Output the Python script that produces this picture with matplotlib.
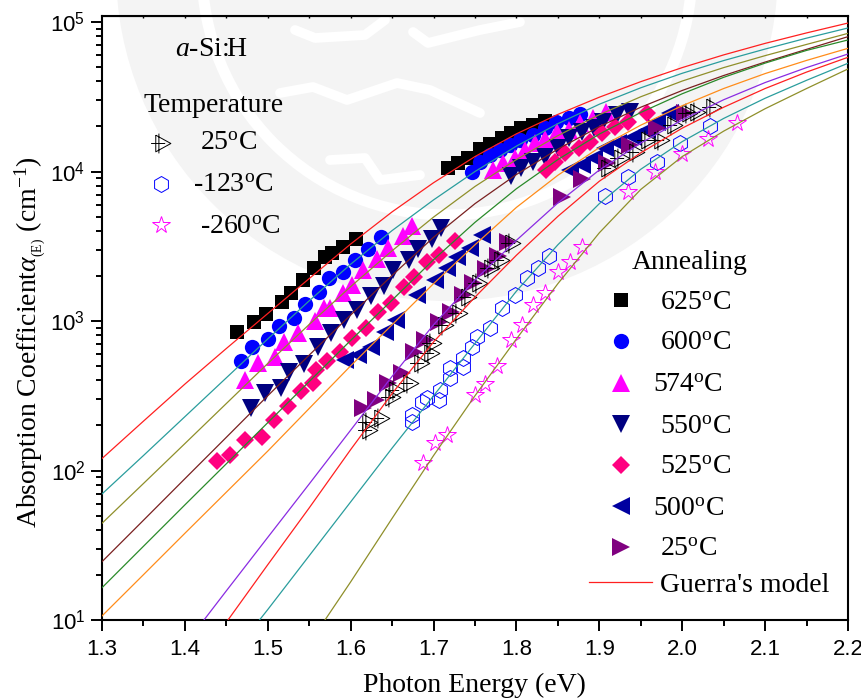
import matplotlib
matplotlib.use("Agg")
import matplotlib.pyplot as plt
import matplotlib.ticker as mticker
import numpy as np
from matplotlib.path import Path
from matplotlib.lines import Line2D
from matplotlib.patches import Circle

plt.rcParams['mathtext.fontset'] = 'custom'
plt.rcParams['mathtext.rm'] = 'Liberation Serif'
plt.rcParams['mathtext.it'] = 'Liberation Serif:italic'
plt.rcParams['mathtext.bf'] = 'Liberation Serif:bold'
plt.rcParams['mathtext.sf'] = 'Liberation Sans'
SERIF = 'Liberation Serif'
SANS = 'Liberation Sans'

# model curves: photon energy and log10(alpha)
grid = [1.30, 1.35, 1.40, 1.45, 1.50, 1.55, 1.60, 1.65, 1.70, 1.75, 1.80, 1.85, 1.90, 1.95, 2.00, 2.05, 2.10, 2.15, 2.20]
log_625 = [2.08, 2.33, 2.578, 2.816, 3.05, 3.284, 3.515, 3.73, 3.925, 4.10, 4.252, 4.382, 4.497, 4.601, 4.695, 4.78, 4.857, 4.927, 4.993]
log_600 = [1.843, 2.10, 2.36, 2.62, 2.88, 3.135, 3.38, 3.605, 3.81, 4.00, 4.17, 4.32, 4.45, 4.56, 4.657, 4.742, 4.819, 4.892, 4.96]
log_574 = [1.647, 1.913, 2.18, 2.448, 2.716, 2.977, 3.23, 3.47, 3.695, 3.90, 4.08, 4.24, 4.38, 4.50, 4.605, 4.695, 4.775, 4.85, 4.924]
log_550 = [1.39, 1.667, 1.945, 2.222, 2.5, 2.772, 3.04, 3.305, 3.56, 3.785, 3.98, 4.15, 4.30, 4.43, 4.542, 4.642, 4.732, 4.817, 4.902]
log_525 = [1.216, 1.493, 1.77, 2.045, 2.32, 2.595, 2.87, 3.14, 3.41, 3.66, 3.885, 4.08, 4.25, 4.395, 4.52, 4.63, 4.725, 4.81, 4.88]
log_500 = [1.027, 1.303, 1.58, 1.855, 2.13, 2.415, 2.70, 2.975, 3.25, 3.51, 3.76, 3.975, 4.16, 4.31, 4.44, 4.555, 4.655, 4.743, 4.824]
grid_a25 = [1.423, 1.45, 1.50, 1.55, 1.60, 1.65, 1.70, 1.75, 1.80, 1.85, 1.90, 1.95, 2.00, 2.05, 2.10, 2.15, 2.20]
log_a25 = [1.0, 1.195, 1.553, 1.91, 2.27, 2.63, 2.975, 3.275, 3.54, 3.79, 4.01, 4.19, 4.345, 4.48, 4.595, 4.695, 4.786]
grid_t25 = [1.452, 1.50, 1.55, 1.60, 1.65, 1.70, 1.75, 1.80, 1.85, 1.90, 1.95, 2.00, 2.05, 2.10, 2.15, 2.20]
log_t25 = [1.0, 1.37, 1.75, 2.14, 2.515, 2.86, 3.16, 3.44, 3.70, 3.935, 4.125, 4.29, 4.43, 4.555, 4.665, 4.764]
grid_t123 = [1.49, 1.50, 1.55, 1.60, 1.65, 1.70, 1.75, 1.80, 1.85, 1.90, 1.95, 2.00, 2.05, 2.10, 2.15, 2.20]
log_t123 = [1.0, 1.07, 1.43, 1.79, 2.15, 2.5, 2.85, 3.2, 3.51, 3.785, 4.015, 4.20, 4.355, 4.49, 4.61, 4.724]
grid_t260 = [1.569, 1.60, 1.65, 1.70, 1.75, 1.80, 1.85, 1.90, 1.95, 2.00, 2.05, 2.10, 2.15, 2.20]
log_t260 = [1.0, 1.255, 1.68, 2.10, 2.50, 2.88, 3.25, 3.59, 3.88, 4.10, 4.27, 4.42, 4.555, 4.686]

# measured points
E_625 = [1.463, 1.483, 1.498, 1.517, 1.528, 1.542, 1.556, 1.569, 1.577, 1.591, 1.606,
         1.718, 1.730, 1.742, 1.756, 1.768, 1.782, 1.794, 1.806, 1.820, 1.834]
A_625 = [849, 990, 1114, 1333, 1531, 1879, 2274, 2667, 2838, 3143, 3515,
         10500, 11450, 12400, 14100, 15200, 16700, 18200, 19600, 20500, 21900]
E_600 = [1.468, 1.481, 1.500, 1.514, 1.532, 1.545, 1.562, 1.574, 1.591, 1.605, 1.621, 1.637,
         1.746, 1.756, 1.768, 1.780, 1.792, 1.804, 1.820, 1.834, 1.848, 1.863, 1.877]
A_600 = [540, 673, 753, 930, 1052, 1300, 1556, 1928, 2138, 2560, 3032, 3664,
         9980, 11650, 12900, 13900, 15000, 16250, 17500, 19400, 21500, 22700, 24300]
E_574 = [1.4725, 1.488, 1.509, 1.520, 1.537, 1.557, 1.568, 1.575, 1.591, 1.602, 1.615, 1.632, 1.645, 1.663, 1.674,
         1.772, 1.784, 1.798, 1.810, 1.822, 1.834, 1.849, 1.863, 1.877, 1.892, 1.908]
A_574 = [403, 521, 571, 728, 836, 1005, 1215, 1215, 1549, 1741, 2193, 2582, 3063, 3706, 4313,
         10230, 11350, 12250, 13900, 15450, 16400, 18500, 18960, 21200, 22700, 25100]
E_550 = [1.480, 1.497, 1.516, 1.526, 1.544, 1.560, 1.576, 1.592, 1.608, 1.624, 1.640, 1.651, 1.670, 1.681, 1.698, 1.709,
         1.794, 1.806, 1.820, 1.834, 1.850, 1.863, 1.879, 1.893, 1.905, 1.921, 1.937]
A_550 = [261, 328, 354, 458, 516, 673, 828, 1016, 1186, 1470, 1714, 2193, 2560, 3020, 3515, 4169,
         9330, 10500, 11650, 12590, 14300, 16700, 18500, 19450, 21500, 23900, 25100]
E_525 = [1.439, 1.454, 1.4725, 1.493, 1.507, 1.525, 1.540, 1.555, 1.558, 1.572, 1.587, 1.602, 1.618, 1.633, 1.649,
         1.664, 1.677, 1.692, 1.706, 1.726,
         1.836, 1.846, 1.859, 1.875, 1.889, 1.903, 1.919, 1.935, 1.957]
A_525 = [115, 127, 160, 167, 218, 272, 340, 383, 470, 540, 623, 766, 894, 1155, 1312,
         1698, 1982, 2495, 2767, 3441,
         10230, 11650, 13240, 14300, 15850, 18000, 19950, 21500, 24500]
E_500 = [1.593, 1.609, 1.625, 1.641, 1.655, 1.680, 1.702, 1.716, 1.728, 1.744, 1.758,
         1.865, 1.879, 1.893, 1.907, 1.923, 1.941, 1.957, 1.969, 1.985]
A_500 = [548, 592, 673, 849, 1016, 1493, 1879, 2248, 2692, 3063, 3758,
         10230, 11060, 12250, 14300, 15450, 17100, 18960, 21500, 24500]
E_a25 = [1.6145, 1.631, 1.645, 1.6615, 1.676, 1.690, 1.706, 1.721, 1.736, 1.748, 1.763, 1.778, 1.790,
         1.855, 1.879, 1.909, 1.937, 1.969, 2.003]
A_a25 = [261, 296, 383, 451, 623, 746, 990, 1155, 1493, 1786, 2218, 2722, 3400,
         6790, 8870, 11350, 15000, 19450, 24500]
E_t25 = [1.621, 1.621, 1.635, 1.649, 1.6535, 1.670, 1.684, 1.696, 1.698, 1.712, 1.730, 1.740, 1.754, 1.768, 1.780, 1.794,
         1.909, 1.925, 1.943, 1.957, 1.973, 1.989, 2.007, 2.017, 2.036]
A_t25 = [187, 212, 223, 312, 346, 383, 521, 608, 710, 940, 1125, 1455, 1786, 2248, 2560, 3311,
         10500, 12250, 13580, 16250, 16250, 20470, 24500, 25100, 27200]
E_t123 = [1.674, 1.674, 1.686, 1.692, 1.706, 1.708, 1.720, 1.720, 1.735, 1.735, 1.746, 1.752, 1.768, 1.783, 1.798,
          1.813, 1.826, 1.839, 1.907, 1.935, 1.970, 1.997, 2.033]
A_t123 = [212, 235, 289, 304, 296, 346, 414, 482, 495, 563, 673, 785, 893, 1215, 1493,
          1940, 2265, 2720, 6850, 9180, 11500, 15500, 20000]
E_t260 = [1.687, 1.702, 1.716, 1.750, 1.762, 1.7765, 1.793, 1.807, 1.820, 1.834, 1.850, 1.865, 1.879,
          1.935, 1.967, 2.000, 2.031, 2.066]
A_t260 = [112, 153, 173, 320, 379, 500, 747, 940, 1280, 1538, 2130, 2483, 3126,
          7300, 10000, 13000, 16600, 21000]

W, H = 862, 700
fig = plt.figure(figsize=(W / 100, H / 100), dpi=100)

# faint seal watermark behind the chart (pixel coordinates)
bg = fig.add_axes([0, 0, 1, 1], zorder=-1)
bg.set_xlim(0, W)
bg.set_ylim(H, 0)
bg.axis('off')
GREY = '#f4f4f4'
bg.add_patch(Circle((447, -30), 331, fc=GREY, ec='none'))
bg.add_patch(Circle((447, -30), 245, fc='none', ec='white', lw=8))
for wx, wy in [([295, 315, 365, 385], [30, 38, 35, 20]),
               ([413, 428, 480, 520], [32, 43, 30, 22]),
               ([280, 313, 347, 397, 430, 480], [93, 87, 100, 83, 90, 113]),
               ([330, 365, 380, 420], [160, 158, 180, 175])]:
    bg.plot(wx, wy, color='white', lw=7, solid_joinstyle='round', solid_capstyle='round')

L, R, T, B = 102, 848, 16, 620
ax = fig.add_axes([L / W, 1 - B / H, (R - L) / W, (B - T) / H])
ax.set_xlim(1.3, 2.2)
ax.set_yscale('log')
ax.set_ylim(10, 10 ** (5 + 6 / 149.5))
ax.patch.set_alpha(0)

RED, TEAL, OLIVE, BROWN, GREEN, ORANGE, VIOLET = '#ff2020', '#2a9d9d', '#8f8f2a', '#7a2020', '#2a8a2a', '#ff8c1a', '#8a2be2'
NAVY, PINK, DKBLUE, PURPLE = '#000080', '#ff0080', '#0000a0', '#800080'

# crossed right-pointing triangle marker
cross_tri = Path([(-0.55, 0.8), (0.9, 0), (-0.55, -0.8), (-0.55, 0.8),
                  (-0.25, 0.95), (-0.25, -0.95), (-1.0, 0), (0.35, 0)],
                 [Path.MOVETO, Path.LINETO, Path.LINETO, Path.LINETO,
                  Path.MOVETO, Path.LINETO, Path.MOVETO, Path.LINETO])

def filled(x, y, m, c, s):
    ax.plot(x, y, ls='none', marker=m, mfc=c, mec=c, mew=0, ms=s, zorder=3)

filled(E_625, A_625, 's', 'black', 10)
filled(E_600, A_600, 'o', '#0000ff', 11)
filled(E_574, A_574, '^', '#ff00ff', 13)
filled(E_550, A_550, 'v', NAVY, 13)
filled(E_525, A_525, 'D', PINK, 9.5)
filled(E_500, A_500, '<', DKBLUE, 13)
filled(E_a25, A_a25, '>', PURPLE, 13)
ax.plot(E_t25, A_t25, ls='none', marker=cross_tri, mfc='none', mec='black', mew=0.7, ms=15, zorder=3)
ax.plot(E_t123, A_t123, ls='none', marker='h', mfc='none', mec='#0000ff', mew=0.7, ms=11.5, zorder=3)
ax.plot(E_t260, A_t260, ls='none', marker='*', mfc='none', mec='#ff00ff', mew=0.7, ms=13, zorder=3)

for x, y, c in [(grid, log_625, RED), (grid, log_600, TEAL), (grid, log_574, OLIVE),
                (grid, log_550, BROWN), (grid, log_525, GREEN), (grid, log_500, ORANGE),
                (grid_a25, log_a25, VIOLET), (grid_t25, log_t25, RED),
                (grid_t123, log_t123, TEAL), (grid_t260, log_t260, OLIVE)]:
    ax.plot(x, 10 ** np.array(y), color=c, lw=0.9, zorder=4)

ax.set_xticks(np.arange(1.3, 2.21, 0.1))
ax.set_xticks(np.arange(1.35, 2.2, 0.1), minor=True)
ax.set_xticklabels(['1.3', '1.4', '1.5', '1.6', '1.7', '1.8', '1.9', '2.0', '2.1', '2.2'],
                   fontfamily=SANS, fontsize=16)
ax.set_yticks([10, 100, 1000, 10000, 100000])
ax.set_yticklabels(['10$^{\\mathsf{%d}}$' % k for k in [1, 2, 3, 4, 5]], fontsize=16, fontfamily=SANS)
ax.yaxis.set_minor_locator(mticker.LogLocator(base=10, subs=np.arange(2, 10), numticks=12))
ax.yaxis.set_minor_formatter(mticker.NullFormatter())
ax.tick_params(which='major', direction='out', length=8, width=1.4, pad=4)
ax.tick_params(axis='x', which='major', pad=6)
ax.tick_params(which='minor', direction='out', length=4.5, width=1.4)
for s in ax.spines.values():
    s.set_linewidth(1.5)
top = ax.secondary_xaxis('top')
top.set_xticks(np.arange(1.35, 2.2, 0.05))
top.set_xticklabels([])
top.tick_params(direction='in', length=1.5, width=1)

fig.text(474 / W, 1 - 685 / H, 'Photon Energy (eV)', family=SERIF, fontsize=20, ha='center', va='center')
fig.text(31 / W, 1 - 342 / H, r'Absorption Coefficient$\alpha_{_{(\mathrm{E})}}$ (cm$^{-1}$)',
         family=SERIF, fontsize=20, rotation=90, ha='center', va='center')

def txt(px, py, s, size=20):
    fig.text(px / W, 1 - (py + 2) / H, s, family=SERIF, fontsize=size, ha='left', va='center')

def mark(px, py, **kw):
    fig.add_artist(Line2D([px / W], [1 - py / H], transform=fig.transFigure, ls='none', **kw))

txt(175, 48, r'$\mathit{a}$-Si:H')
txt(144, 103, 'Temperature')
deg = '$^{\\mathrm{o}}$C'
txt(200, 142, '25' + deg)
txt(193, 184, '-123' + deg)
txt(200, 225, '-260' + deg)
mark(161, 143, marker=cross_tri, mfc='none', mec='black', mew=0.7, ms=15)
mark(161, 184, marker='h', mfc='none', mec='#0000ff', mew=0.7, ms=11.5)
mark(161, 225, marker='*', mfc='none', mec='#ff00ff', mew=0.7, ms=13)

txt(632, 260, 'Annealing')
rows = [(660, 301, '625', 's', 'black', 10), (660, 342, '600', 'o', '#0000ff', 11),
        (653, 384, '574', '^', '#ff00ff', 13), (660, 425, '550', 'v', NAVY, 13),
        (660, 466, '525', 'D', PINK, 9.5), (653, 507, '500', '<', DKBLUE, 13),
        (660, 548, '25', '>', PURPLE, 13)]
for tx, ty, lab, m, c, s in rows:
    txt(tx, ty, lab + deg)
    mark(621, ty - 1, marker=m, mfc=c, mec=c, mew=0, ms=s)
fig.add_artist(Line2D([589 / W, 652 / W], [1 - 582 / H, 1 - 582 / H], transform=fig.transFigure, color=RED, lw=0.9))
txt(660, 583, "Guerra's model")

fig.savefig('out.png', dpi=100)
